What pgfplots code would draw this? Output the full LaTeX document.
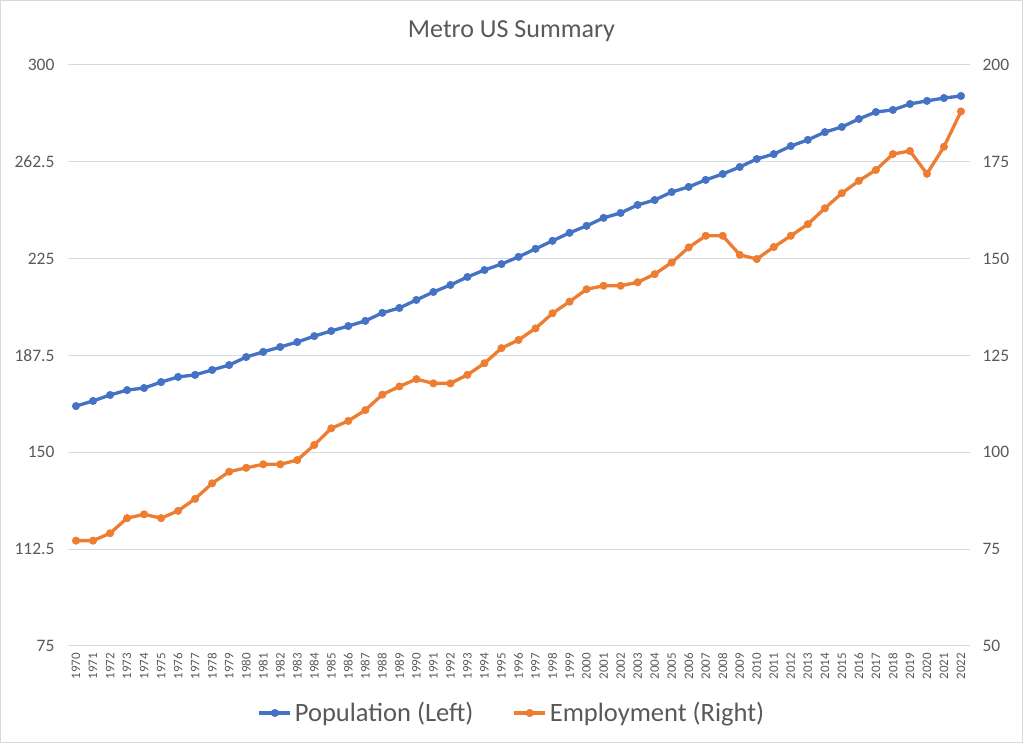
\documentclass[border=0pt]{standalone}
\usepackage{pgfplots}
\pgfplotsset{compat=1.18}
\usepackage{fontspec}
\setmainfont{Carlito}

\definecolor{popblue}{HTML}{4472C4}
\definecolor{emporange}{HTML}{ED7D31}
\definecolor{txtgray}{HTML}{595959}
\definecolor{gridgray}{HTML}{D9D9D9}

% one pt here stands for one pixel of the reference
\pgfplotsset{
  metro/.style={
    scale only axis,
    width=902pt, height=581pt,
    at={(67.5pt,97pt)}, anchor=south west,
    xmin=1969.5, xmax=2022.5,
    axis line style={draw=none},
    major tick length=0pt,
    tick style={draw=none},
    /pgf/number format/assume math mode=true,
    ticklabel style={text=txtgray},
  },
  series/.style={line width=3.3pt, line join=round, mark=*, mark size=3.7pt,
    mark options={solid, line width=0.6pt, fill=#1, draw=#1}, color=#1},
}

\begin{document}
\begin{tikzpicture}
\useasboundingbox (0,0) rectangle (1023pt,743pt);
\draw[gridgray, line width=1pt] (0.5pt,0.5pt) rectangle (1022.5pt,742.5pt);

\begin{axis}[metro,
    ymin=75, ymax=300,
    ytick={75,112.5,150,187.5,225,262.5,300},
    yticklabels={75,112.5,150,187.5,225,262.5,300},
    ymajorgrids, grid style={gridgray, line width=1pt},
    yticklabel style={font=\fontsize{17.5}{20}\selectfont, xshift=-9.5pt},
    xtick={1970,1971,...,2022},
    xticklabel style={font=\fontsize{13}{15}\selectfont, rotate=90, anchor=east,
      inner xsep=7pt, /pgf/number format/1000 sep={}},
  ]
\addplot[series=popblue] coordinates {
(1970,167.9) (1971,169.9) (1972,172.2) (1973,174.1) (1974,174.9)
(1975,177.2) (1976,179.2) (1977,180.0) (1978,181.9) (1979,183.8)
(1980,186.9) (1981,188.9) (1982,190.8) (1983,192.7) (1984,195.0)
(1985,197.0) (1986,198.9) (1987,200.9) (1988,204.0) (1989,205.9)
(1990,209.0) (1991,212.1) (1992,214.8) (1993,217.9) (1994,220.6)
(1995,222.9) (1996,225.7) (1997,228.8) (1998,231.9) (1999,235.0)
(2000,237.7) (2001,240.8) (2002,242.7) (2003,245.8) (2004,247.7)
(2005,250.8) (2006,252.8) (2007,255.5) (2008,257.8) (2009,260.5)
(2010,263.6) (2011,265.5) (2012,268.6) (2013,271.0) (2014,274.0)
(2015,276.0) (2016,279.1) (2017,281.8) (2018,282.6) (2019,284.9)
(2020,286.1) (2021,287.2) (2022,288.0)
};
\end{axis}

\begin{axis}[metro,
    ymin=50, ymax=200,
    ytick={50,75,...,200},
    axis x line=none,
    axis y line*=right,
    yticklabel style={font=\fontsize{17.5}{20}\selectfont, anchor=west, xshift=9.5pt},
    legend columns=2,
    legend style={at={(0.4933,-0.1153)}, anchor=center, draw=none, fill=none,
      font=\fontsize{26.5}{30}\selectfont, text=txtgray,
      /tikz/every even column/.append style={column sep=36pt},
      inner sep=0pt, nodes={inner xsep=3pt}},
    legend image code/.code={
      \draw[mark repeat=2, mark phase=2, #1] plot coordinates {(0pt,0pt) (15.5pt,0pt) (31pt,0pt)};
    },
  ]
\addlegendimage{series=popblue}
\addlegendentry{Population (Left)}
\addplot[series=emporange] coordinates {
(1970,77.2) (1971,77.2) (1972,79.1) (1973,83.0) (1974,84.0)
(1975,83.0) (1976,84.9) (1977,88.0) (1978,92.0) (1979,95.0)
(1980,96.0) (1981,96.9) (1982,96.9) (1983,98.0) (1984,101.9)
(1985,106.2) (1986,108.1) (1987,110.9) (1988,114.9) (1989,117.0)
(1990,118.9) (1991,117.8) (1992,117.8) (1993,120.0) (1994,123.0)
(1995,126.9) (1996,129.0) (1997,132.0) (1998,135.9) (1999,138.9)
(2000,142.1) (2001,143.0) (2002,143.0) (2003,143.9) (2004,146.0)
(2005,149.0) (2006,152.9) (2007,155.9) (2008,155.9) (2009,151.0)
(2010,149.9) (2011,153.0) (2012,155.9) (2013,158.9) (2014,163.0)
(2015,166.9) (2016,170.1) (2017,172.9) (2018,177.0) (2019,177.8)
(2020,171.9) (2021,178.9) (2022,188.0)
};
\addlegendentry{Employment (Right)}
\end{axis}

\node[anchor=base, text=txtgray, font=\fontsize{26}{30}\selectfont] at (511.5pt,705.7pt) {Metro US Summary};
\end{tikzpicture}
\end{document}
